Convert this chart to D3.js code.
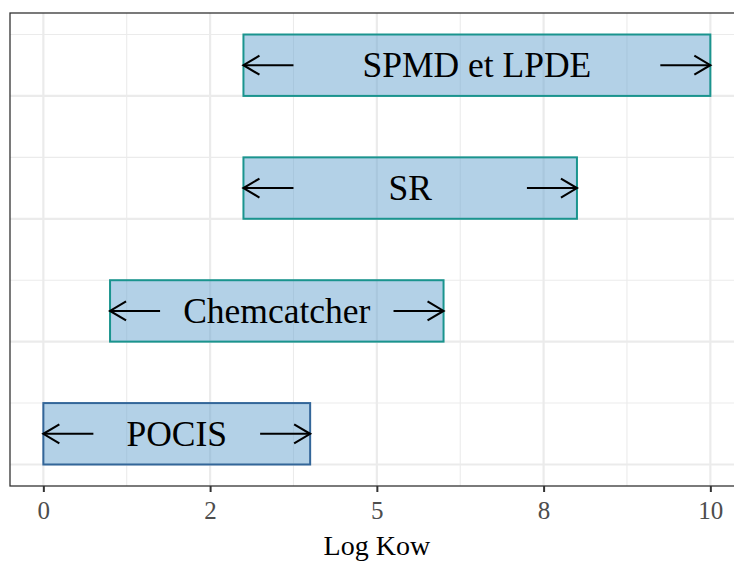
<!DOCTYPE html>
<html><head><meta charset="utf-8">
<script src="https://cdn.jsdelivr.net/npm/d3@7"></script>
<style>body{margin:0;background:#fff}svg{display:block}</style>
</head><body>
<script>
const samplers = ["POCIS", "Chemcatcher", "SR", "SPMD et LPDE"];
const logKowMin = [0, 1, 3, 3];
const logKowMax = [4, 6, 8, 10];
const yLevel = [1, 2, 3, 4];
const strokeColors = ["#336699", "#1a948e", "#1a948e", "#1a948e"];
const xTicks = [0, 2.5, 5, 7.5, 10];
const xTickLabels = ["0", "2", "5", "8", "10"];
const xMinor = [1.25, 3.75, 6.25, 8.75];
const yMajor = [1, 2, 3, 4];
const yMinor = [1.5, 2.5, 3.5, 4.5];
const arrowLen = 0.75;

const W = 734, H = 561;
const svg = d3.select("body").append("svg").attr("width", W).attr("height", H);
const font = "'Liberation Serif', 'DejaVu Serif', serif";

const x = d3.scaleLinear().domain([-0.5, 10.5]).range([10, 743.7]);
const y = d3.scaleLinear().domain([0.825, 4.675]).range([486, 13]);

const panel = svg.append("g");
panel.append("rect").attr("x", 10).attr("y", 13).attr("width", 733.7).attr("height", 473).attr("fill", "#fff");

// grid
panel.selectAll(".vmin").data(xMinor).join("line")
  .attr("x1", d => x(d)).attr("x2", d => x(d)).attr("y1", 13).attr("y2", 486)
  .attr("stroke", "#ebebeb").attr("stroke-width", 1.1);
panel.selectAll(".hmin").data(yMinor).join("line")
  .attr("y1", d => y(d)).attr("y2", d => y(d)).attr("x1", 10).attr("x2", 744)
  .attr("stroke", "#ebebeb").attr("stroke-width", 1.1);
panel.selectAll(".vmaj").data(xTicks).join("line")
  .attr("x1", d => x(d)).attr("x2", d => x(d)).attr("y1", 13).attr("y2", 486)
  .attr("stroke", "#ebebeb").attr("stroke-width", 2.2);
panel.selectAll(".hmaj").data(yMajor).join("line")
  .attr("y1", d => y(d)).attr("y2", d => y(d)).attr("x1", 10).attr("x2", 744)
  .attr("stroke", "#ebebeb").attr("stroke-width", 2.2);

// bars
const data = samplers.map((s, i) => ({name: s, lo: logKowMin[i], hi: logKowMax[i], y: yLevel[i], c: strokeColors[i]}));
const g = svg.append("g");
g.selectAll("rect.bar").data(data).join("rect")
  .attr("x", d => x(d.lo)).attr("width", d => x(d.hi) - x(d.lo))
  .attr("y", d => y(d.y + 0.5)).attr("height", d => y(d.y) - y(d.y + 0.5))
  .attr("fill", "rgba(103,163,207,0.5)").attr("stroke", d => d.c).attr("stroke-width", 2);

// arrows
function arrow(x1, x2, yy) {
  const dir = Math.sign(x2 - x1);
  g.append("line").attr("x1", x1).attr("x2", x2).attr("y1", yy).attr("y2", yy)
    .attr("stroke", "#000").attr("stroke-width", 2.1);
  g.append("path")
    .attr("d", `M${x2 - dir * 16},${yy - 9.5}L${x2},${yy}L${x2 - dir * 16},${yy + 9.5}`)
    .attr("fill", "none").attr("stroke", "#000").attr("stroke-width", 2.1);
}
data.forEach(d => {
  const yy = y(d.y + 0.25);
  arrow(x(d.lo + arrowLen), x(d.lo), yy);
  arrow(x(d.hi - arrowLen), x(d.hi), yy);
});

g.selectAll("text.lab").data(data).join("text")
  .attr("x", d => x((d.lo + d.hi) / 2)).attr("y", d => y(d.y + 0.25))
  .attr("dy", "0.34em").attr("text-anchor", "middle")
  .attr("font-family", font).attr("font-size", 35.5).attr("fill", "#000")
  .text(d => d.name);

// border
svg.append("rect").attr("x", 10).attr("y", 13).attr("width", 733.7).attr("height", 473)
  .attr("fill", "none").attr("stroke", "#333").attr("stroke-width", 1.3);

// x axis
const ax = svg.append("g").attr("transform", "translate(0,486)")
  .call(d3.axisBottom(x).tickValues(xTicks).tickFormat((d, i) => xTickLabels[i]).tickSize(6).tickPadding(9));
ax.select(".domain").remove();
ax.selectAll(".tick line").attr("stroke", "#333").attr("stroke-width", 2);
ax.selectAll(".tick text").attr("font-family", font).attr("font-size", 25).attr("fill", "#4d4d4d");

svg.append("text").attr("x", x(5)).attr("y", 555).attr("text-anchor", "middle")
  .attr("font-family", font).attr("font-size", 28).attr("fill", "#000").text("Log Kow");
</script>
</body></html>
